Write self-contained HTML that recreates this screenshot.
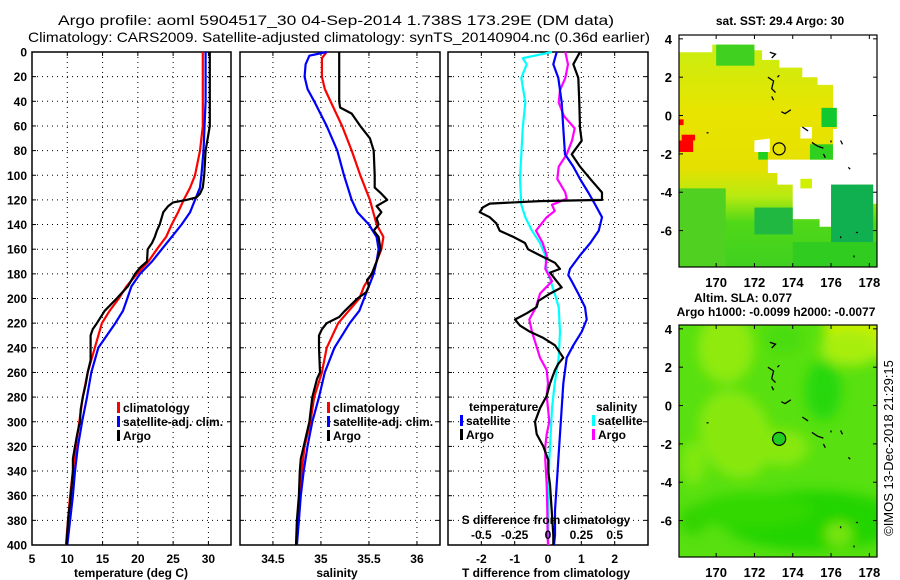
<!DOCTYPE html>
<html><head><meta charset="utf-8"><style>
html,body{margin:0;padding:0;background:#fff;}
svg{display:block;font-family:"Liberation Sans",sans-serif;}
.t{font-size:12px;font-weight:bold;fill:#000;}
</style></head><body>
<svg id="fig" width="900" height="580" viewBox="0 0 900 580" xmlns="http://www.w3.org/2000/svg">
<text x="336" y="25" text-anchor="middle" font-size="14" textLength="556" lengthAdjust="spacingAndGlyphs">Argo profile: aoml 5904517_30 04-Sep-2014 1.738S 173.29E (DM data)</text>
<text x="339" y="42" text-anchor="middle" font-size="14" textLength="622" lengthAdjust="spacingAndGlyphs">Climatology: CARS2009. Satellite-adjusted climatology: synTS_20140904.nc (0.36d earlier)</text>
<g id="g"></g>
</svg>
<script>
// ---------- data ----------
const depthTemp = [0,60,80,100,110,120,130,140,150,160,170,180,190,200,210,220,240,260,280,300,320,340,360,380,400];
const tempClim  = [29.2,29.2,28.8,28.1,27.4,26.5,25.7,24.8,24.0,22.7,21.5,19.9,18.4,17.3,16.0,14.9,13.9,12.9,12.2,11.7,11.2,10.8,10.4,10.1,9.8];
const depthTempSat = [0,40,80,100,110,120,130,140,150,160,170,180,190,200,210,220,230,240,260,280,300,320,340,360,380,400];
const tempSat   = [29.6,29.6,29.3,29.0,28.8,28.1,27.4,26.2,24.8,23.4,22.0,20.3,19.1,18.5,17.9,16.8,15.6,14.4,13.4,12.8,12.1,11.5,11.1,10.8,10.4,10.0];
const depthTempArgo = [0,60,70,80,90,100,110,115,118,120,122,125,130,140,145,150,155,160,170,175,180,190,200,210,220,225,230,240,250,260,270,280,290,300,310,320,330,340,360,380,400];
const tempArgo  = [30.2,30.2,29.9,29.6,29.5,29.4,29.2,28.8,28.3,26.9,25.0,24.3,23.6,23.1,22.7,22.4,22.0,21.4,21.3,20.3,19.6,18.6,17.0,15.3,14.2,13.6,13.3,13.3,13.3,12.9,12.6,12.2,11.9,11.8,11.4,11.1,10.8,10.8,10.5,10.1,9.9];

const depthSal = [0,5,20,30,40,60,80,100,120,140,150,160,170,180,190,200,210,220,240,260,280,300,320,340,360,380,400];
const salClim  = [35.06,35.01,35.01,35.04,35.10,35.22,35.32,35.41,35.51,35.58,35.65,35.63,35.58,35.53,35.45,35.40,35.29,35.18,35.06,35.01,34.93,34.89,34.83,34.80,34.78,34.77,34.74];
const depthSalSat = [0,3,10,20,30,40,60,80,100,120,130,140,150,160,170,180,190,200,210,220,240,260,280,300,320,340,360,380,400];
const salSat   = [35.06,34.88,34.84,34.83,34.86,34.93,35.06,35.17,35.24,35.32,35.38,35.50,35.58,35.60,35.58,35.55,35.50,35.45,35.40,35.30,35.14,35.04,34.98,34.91,34.86,34.82,34.79,34.77,34.75];
const depthSalArgo = [0,40,45,50,60,70,80,100,110,115,120,125,130,135,140,145,150,160,170,180,185,190,195,200,210,215,220,225,230,240,260,265,280,300,320,330,340,360,380,400];
const salArgo  = [35.19,35.19,35.20,35.32,35.41,35.51,35.55,35.56,35.56,35.63,35.69,35.58,35.63,35.58,35.60,35.55,35.60,35.62,35.58,35.53,35.48,35.50,35.47,35.38,35.25,35.19,35.06,35.01,34.98,34.98,34.99,34.96,34.91,34.88,34.82,34.79,34.78,34.77,34.75,34.74];

const depthDTsat = [0,10,21,41,62,83,93,103,114,124,134,145,155,165,176,181,186,196,207,217,227,238,248,269,289,310,331,351,372,392,400];
const dTsat = [0.26,0.16,0.31,0.41,0.46,0.51,0.76,0.96,1.21,1.42,1.62,1.52,1.27,0.96,0.66,0.61,0.71,0.91,1.11,1.16,1.01,0.76,0.56,0.46,0.41,0.36,0.31,0.26,0.21,0.21,0.18];
const depthDTargo = [0,10,21,41,62,72,83,93,103,114,120,121,123,126,130,134,139,145,150,155,160,165,171,176,179,186,191,196,202,207,212,217,222,227,232,238,248,253,258,269,279,289,300,310,320,331,341,351,372,392,400];
const dTargo = [0.96,0.76,0.91,0.94,0.96,1.01,0.71,0.96,1.27,1.62,1.62,-0.24,-1.75,-1.95,-2.05,-1.75,-1.55,-1.45,-1.04,-0.69,-0.60,-0.24,0.21,0.36,0.06,0.26,0.41,0.06,-0.29,-0.34,-0.64,-0.99,-0.84,-0.54,-0.14,0.21,0.46,0.31,0.21,0.06,-0.04,-0.24,-0.39,-0.34,-0.14,0.01,0.01,0.06,0.11,0.16,0.16];
const depthDSsat = [0,5,10,21,41,62,83,103,124,134,145,155,165,176,186,196,207,227,248,269,289,310,331,351,372,392,400];
const dSsat = [0.03,-0.19,-0.16,-0.20,-0.17,-0.19,-0.20,-0.21,-0.20,-0.17,-0.12,-0.06,-0.02,-0.01,0.02,0.05,0.08,0.09,0.08,0.05,0.03,0.02,0.01,0.005,0.003,0.003,0.003];
const depthDSargo = [0,10,21,31,41,52,62,72,83,93,103,114,119,124,129,134,145,155,165,176,186,196,207,217,227,248,258,269,279,289,300,310,320,331,351,372,392,400];
const dSargo = [0.13,0.15,0.13,0.09,0.08,0.12,0.20,0.18,0.14,0.08,0.07,0.13,0.14,0.03,0.05,-0.01,-0.09,-0.04,-0.01,-0.02,0.03,-0.06,-0.09,-0.14,-0.12,-0.06,-0.01,0.00,-0.01,0.00,0.01,-0.01,-0.02,-0.02,-0.01,-0.005,-0.003,0.00];

const tempTicks = [5,10,15,20,25,30];
const salTicks = [34.5,35,35.5,36];
const dTTicks = [-2,-1,0,1,2];
const dSTicks = [-0.5,-0.25,0,0.25,0.5];
const dSTickLabels = ["-0.5","-0.25","0","0.25","0.5"];
const depthTicks = [0,20,40,60,80,100,120,140,160,180,200,220,240,260,280,300,320,340,360,380,400];
const latTicks = [4,2,0,-2,-4,-6];
const lonTicks = [170,172,174,176,178];

// ---------- helpers ----------
const NS="http://www.w3.org/2000/svg";
const G=document.getElementById('g');
function mk(tag,attrs,parent){const e=document.createElementNS(NS,tag);for(const k in attrs)e.setAttribute(k,attrs[k]);(parent||G).appendChild(e);return e;}
const Y0=52,Y1=545;
function yD(d){return Y0+(d/400)*(Y1-Y0);}
function lin(d0,d1,r0,r1){return v=>r0+(v-d0)/(d1-d0)*(r1-r0);}

const xT = lin(5,33.2,32,231);
const xS = lin(34.157,36.24,240,440);
const xDT = lin(-3,3,448,648);
const xDS = lin(-0.75,0.75,448,648);

function panel(name,x0,x1,vx,xfun,ticks,labels,showDepth){
  const g=mk('g',{});
  
  
  for(const d of depthTicks){ if(d>0&&d<400){const l=mk('line',{x1:x0,x2:x1,y1:yD(d),y2:yD(d),stroke:'#000','stroke-width':1,'stroke-dasharray':'1,4'},g);}
    mk('line',{x1:x0,x2:x0+4,y1:yD(d),y2:yD(d),stroke:'#000'},g);mk('line',{x1:x1-4,x2:x1,y1:yD(d),y2:yD(d),stroke:'#000'},g);
    if(showDepth){const t=mk('text',{x:27,y:yD(d)+4.5,'text-anchor':'end',class:'t'},g);t.textContent=d;}}
  vx.forEach((v,i)=>{const x=xfun(v);
    if(x>x0+1&&x<x1-1){const l=mk('line',{x1:x,x2:x,y1:Y0,y2:Y1,stroke:'#000','stroke-dasharray':'1,4'},g);}
    mk('line',{x1:x,x2:x,y1:Y1,y2:Y1-4,stroke:'#000'},g);mk('line',{x1:x,x2:x,y1:Y0,y2:Y0+4,stroke:'#000'},g);
    if(labels){const t=mk('text',{x:x,y:563,'text-anchor':'middle',class:'t'},g);t.textContent=labels[i];}
  });
  const r=mk('rect',{x:x0,y:Y0,width:x1-x0,height:Y1-Y0,fill:'none',stroke:'#000','stroke-width':1.5},g);
  
  return g;
}
function line(parent,xs,ds,xfun,color,name,w){
  const pts=xs.map((v,i)=>xfun(v).toFixed(1)+','+yD(ds[i]).toFixed(1)).join(' ');
  const p=mk('polyline',{points:pts,fill:'none',stroke:color,'stroke-width':w||2.2,'stroke-linejoin':'round'},parent);
  
  
}
function txt(parent,x,y,s,name,anchor,extra){const t=mk('text',Object.assign({x:x,y:y,'text-anchor':anchor||'start',class:'t'},extra||{}),parent);t.textContent=s;return t;}
function legendEntry(parent,x,y,color,label,name){
  const r=mk('rect',{x:x,y:y-10,width:3,height:11,fill:color},parent);
  
  txt(parent,x+6,y,label,name);
}

// Panel 1: temperature
const p1=panel('temperature-panel',32,231,tempTicks,xT,tempTicks,tempTicks,true);
line(p1,tempClim,depthTemp,xT,'#ff0000','temp-climatology-line');
line(p1,tempSat,depthTempSat,xT,'#0000ff','temp-satellite-line');
line(p1,tempArgo,depthTempArgo,xT,'#000000','temp-argo-line');
legendEntry(p1,117,412,'#ff0000','climatology','legend-climatology');
legendEntry(p1,117,426,'#0000ff','satellite-adj. clim.','legend-satellite');
legendEntry(p1,117,440,'#000000','Argo','legend-argo');
txt(p1,131,577,'temperature (deg C)','x-axis-title-temperature','middle');

// Panel 2: salinity
const p2=panel('salinity-panel',240,440,salTicks,xS,salTicks,salTicks,false);
line(p2,salClim,depthSal,xS,'#ff0000','sal-climatology-line');
line(p2,salSat,depthSalSat,xS,'#0000ff','sal-satellite-line');
line(p2,salArgo,depthSalArgo,xS,'#000000','sal-argo-line');
legendEntry(p2,327,412,'#ff0000','climatology','legend-climatology');
legendEntry(p2,327,426,'#0000ff','satellite-adj. clim.','legend-satellite');
legendEntry(p2,327,440,'#000000','Argo','legend-argo');
txt(p2,337,577,'salinity','x-axis-title-salinity','middle');

// Panel 3: differences
const p3=panel('difference-panel',448,648,dTTicks,xDT,dTTicks,dTTicks,false);
line(p3,dSsat,depthDSsat,xDS,'#00ffff','sal-diff-satellite-line');
line(p3,dSargo,depthDSargo,xDS,'#ff00ff','sal-diff-argo-line');
line(p3,dTsat,depthDTsat,xDT,'#0000ff','temp-diff-satellite-line');
line(p3,dTargo,depthDTargo,xDT,'#000000','temp-diff-argo-line');
txt(p3,469,411,'temperature','legend-temperature-heading');
legendEntry(p3,460,425,'#0000ff','satellite','legend-temp-satellite');
legendEntry(p3,460,439,'#000000','Argo','legend-temp-argo');
txt(p3,596,411,'salinity','legend-salinity-heading');
legendEntry(p3,592,425,'#00ffff','satellite','legend-sal-satellite');
legendEntry(p3,592,439,'#ff00ff','Argo','legend-sal-argo');
txt(p3,546,524,'S difference from climatology','s-axis-title','middle');
dSTicks.forEach((v,i)=>txt(p3,xDS(v),539,dSTickLabels[i],'s-tick-label','middle'));
txt(p3,546,577,'T difference from climatology','x-axis-title-tdiff','middle');

// ---------- maps ----------
const MX0=679,MX1=877;
const lonX=lin(168.06,178.4,MX0,MX1);
function mapFrame(name,top,bot,latTop,latBot){
  const g=mk('g',{});
  
  const latY=lin(latTop,latBot,top,bot);
  return {g,latY,top,bot};
}
function poly(m,pts,fill,name){
  const p=mk('polygon',{points:pts.map(p=>lonX(p[0]).toFixed(1)+','+m.latY(p[1]).toFixed(1)).join(' '),fill:fill},m.g);
  
}
function rectLL(m,l0,l1,a0,a1,fill,name){
  const r=mk('rect',{x:lonX(l0),y:m.latY(a0),width:lonX(l1)-lonX(l0),height:m.latY(a1)-m.latY(a0),fill:fill},m.g);
  
}
function axes(m){
  latTicks.forEach(v=>{const y=m.latY(v);mk('line',{x1:MX0,x2:MX0+4,y1:y,y2:y,stroke:'#000'},m.g);mk('line',{x1:MX1-4,x2:MX1,y1:y,y2:y,stroke:'#000'},m.g);
    txt(m.g,672,y+5,String(v),'lat-tick-label','end',{style:'font-size:13px'});});
  lonTicks.forEach(v=>{const x=lonX(v);mk('line',{x1:x,x2:x,y1:m.bot,y2:m.bot-4,stroke:'#000'},m.g);mk('line',{x1:x,x2:x,y1:m.top,y2:m.top+4,stroke:'#000'},m.g);
    txt(m.g,x,m.bot+20,String(v),'lon-tick-label','middle',{style:'font-size:13px'});});
  const r=mk('rect',{x:MX0,y:m.top,width:MX1-MX0,height:m.bot-m.top,fill:'none',stroke:'#000','stroke-width':1.2},m.g);
  
}
function islands(m){
  const isl=[[[172.8,3.3],[173.1,3.2],[172.9,3.0]],[[172.7,2.0],[173.0,1.8],[172.9,1.4],[173.1,1.2]],[[173.2,2.0],[173.3,2.1]],[[172.9,1.0],[173.0,0.8]],[[173.4,0.2],[173.6,0.1],[173.9,0.3]],[[174.5,-0.6],[174.8,-0.8]],[[175.0,-1.4],[175.3,-1.6],[175.6,-1.7]],[[176.0,-1.3],[176.0,-1.4]],[[176.5,-1.3],[176.6,-1.5]],[[175.6,-2.0],[175.7,-2.2]],[[176.9,-2.7],[177.0,-2.8]],[[176.5,-6.3],[176.5,-6.4]],[[177.3,-6.1],[177.4,-6.1]],[[177.2,-7.3],[177.2,-7.4]],[[169.5,-0.9],[169.6,-0.9]]];
  isl.forEach(s=>{const p=mk('polyline',{points:s.map(q=>lonX(q[0]).toFixed(1)+','+m.latY(q[1]).toFixed(1)).join(' '),fill:'none',stroke:'#000','stroke-width':1.3},m.g);
    });
}
const floatLon=173.29, floatLat=-1.738;

// Top map: SST
const m1=mapFrame('sst-map',35,267,4.2,-7.9);
txt(m1.g,780,25,'sat. SST: 29.4 Argo: 30','sst-map-title','middle');
const defs=mk('defs',{});
const gr=mk('linearGradient',{id:'sstg',x1:0,y1:0,x2:0,y2:1},defs);
[['0','#c8ee10'],['0.3','#e8e400'],['0.55','#e6e000'],['0.68','#b8ea10'],['0.8','#50d818'],['1','#40d020']].forEach(s=>mk('stop',{offset:s[0],'stop-color':s[1]},gr));
poly(m1,[[168.06,3.3],[169.8,3.3],[169.8,3.7],[171.3,3.7],[171.3,3.4],[172.4,3.4],[172.4,2.9],[173.3,2.9],[173.3,2.5],[174.5,2.5],[174.5,2.0],[175.3,2.0],[175.3,1.6],[176.1,1.6],[176.1,0.4],[176.3,0.4],[176.3,-0.7],[176.1,-0.7],[176.1,-2.3],[172.7,-2.3],[172.7,-3.0],[173.2,-3.0],[173.2,-3.6],[174.0,-3.6],[174.0,-5.4],[175.4,-5.4],[175.4,-5.8],[176.0,-5.8],[176.0,-4.8],[177.2,-4.8],[177.2,-3.6],[178.2,-3.6],[178.2,-4.6],[178.4,-4.6],[178.4,-7.9],[168.06,-7.9]],'url(#sstg)','sst-data-area');
rectLL(m1,170,172,3.7,2.6,'#40d020','sst-patch');
rectLL(m1,175.5,176.3,0.4,-0.6,'#10c830','sst-patch');
rectLL(m1,174.9,176.1,-1.5,-2.3,'#30d020','sst-patch');
rectLL(m1,172.2,172.7,-1.9,-2.3,'#20d020','sst-patch');
rectLL(m1,176.0,178.2,-3.6,-6.8,'#10b050','sst-patch');
rectLL(m1,172.0,174.0,-4.8,-6.2,'#20b840','sst-patch');
rectLL(m1,168.06,170.5,-3.8,-7.9,'#50d020','sst-patch');
rectLL(m1,174.0,178.4,-6.6,-7.9,'#30cc20','sst-patch');
rectLL(m1,174.4,175.0,-3.3,-3.8,'#d0f000','sst-patch');
rectLL(m1,168.06,168.3,-0.2,-0.5,'#ff0000','sst-hot-patch');
rectLL(m1,168.2,168.9,-1.0,-1.3,'#ff0000','sst-hot-patch');
rectLL(m1,168.06,168.8,-1.3,-1.9,'#ff0000','sst-hot-patch');
poly(m1,[[172.0,-1.3],[172.8,-1.2],[172.8,-1.9],[172.0,-1.9]],'#ffffff','sst-missing');
poly(m1,[[174.4,-0.6],[175.0,-0.6],[175.0,-1.2],[174.4,-1.2]],'#ffffff','sst-missing');
islands(m1);
const c1=mk('circle',{cx:lonX(floatLon),cy:m1.latY(floatLat),r:6,fill:'none',stroke:'#000','stroke-width':1.2},m1.g);

axes(m1);

// Bottom map: SLA
const m2=mapFrame('sla-map',325,557,4.2,-7.9);
txt(m2.g,743,302,'Altim. SLA: 0.077','sla-map-title','middle');
txt(m2.g,776,316,'Argo h1000: -0.0099 h2000: -0.0077','argo-height-title','middle');
const fl=mk('filter',{id:'blur',x:'-50%',y:'-50%',width:'200%',height:'200%'},defs);
mk('feGaussianBlur',{stdDeviation:6},fl);
const clip=mk('clipPath',{id:'m2clip'},defs);
mk('rect',{x:MX0,y:325,width:MX1-MX0,height:232},clip);
rectLL(m2,168.06,178.4,4.2,-7.9,'#58e010','sla-base');
const bg=mk('g',{'clip-path':'url(#m2clip)',filter:'url(#blur)'},m2.g);
function ell(lon,lat,rx,ry,fill,rot){const e=mk('ellipse',{cx:lonX(lon),cy:m2.latY(lat),rx:rx,ry:ry,fill:fill,transform:'rotate('+(rot||0)+' '+lonX(lon)+' '+m2.latY(lat)+')'},bg);}
ell(178,4,45,30,'#c8f000');
ell(177,3,30,18,'#a8ee08');
ell(170.5,3,28,35,'#90ea10');
ell(171,-1.5,35,45,'#88e810',-20);
ell(173.5,-2.2,25,18,'#88e810');
ell(168.8,-3,12,22,'#80e810');
ell(175.6,0.8,18,30,'#28d808');
ell(175,-6,90,30,'#20d400');
ell(172,-5.5,60,18,'#30d800');
ell(168.8,-6,14,14,'#30d400');
ell(176.4,-6.7,14,12,'#78e410');
ell(173.5,3.5,20,14,'#48dc08');
islands(m2);
const c2=mk('circle',{cx:lonX(floatLon),cy:m2.latY(floatLat),r:6.5,fill:'#20cc20',stroke:'#000','stroke-width':1.2},m2.g);

axes(m2);

const ts=txt(G,0,0,'\u00a9IMOS 13-Dec-2018 21:29:15','timestamp','middle',{transform:'translate(893,448) rotate(-90)',style:'font-size:13px;font-weight:normal'});
</script>
</body></html>
